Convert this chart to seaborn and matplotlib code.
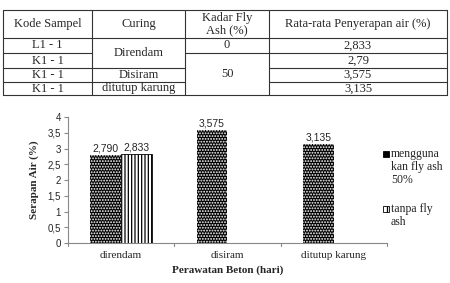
import matplotlib
matplotlib.use("Agg")
import matplotlib.pyplot as plt
from matplotlib.lines import Line2D
from matplotlib.patches import Rectangle
import numpy as np
import pandas as pd
import seaborn as sns

# table data
table_header = ["Kode Sampel", "Curing", "Kadar Fly\nAsh (%)", "Rata-rata Penyerapan air (%)"]
kode_sampel = ["L1 - 1", "K1 - 1", "K1 - 1", "K1 - 1"]
curing_table = ["Direndam", "Disiram", "ditutup karung"]
kadar_fly_ash = ["0", "50"]
rata_rata = ["2,833", "2,79", "3,575", "3,135"]

# chart data
categories = ["direndam", "disiram", "ditutup karung"]
series_names = ["mengguna\nkan fly ash\n50%", "tanpa fly\nash"]
fly_ash_50 = [2.790, 3.575, 3.135]
tanpa_fly_ash = [2.833, np.nan, np.nan]

SERIF = "Liberation Serif"
SANS = "Liberation Sans"

sns.set_style("white")
plt.rcParams["font.family"] = [SERIF, "DejaVu Sans"]
plt.rcParams["hatch.linewidth"] = 0.9

fig = plt.figure(figsize=(4.5, 2.83), dpi=100)

# ---------- table drawn in pixel coords ----------
W, H = 450, 283
def fx(x):
    return x / W
def fy(y):
    return 1 - y / H

cols = [3, 92, 185, 269, 447]
rows = [10, 38, 53, 68, 82, 95]
lc = "#333333"
def hline(y, x0, x1):
    fig.add_artist(Line2D([fx(x0), fx(x1)], [fy(y), fy(y)], color=lc, lw=0.8))
def vline(x, y0, y1):
    fig.add_artist(Line2D([fx(x), fx(x)], [fy(y0), fy(y1)], color=lc, lw=0.8))

hline(rows[0], cols[0], cols[4])
hline(rows[1], cols[0], cols[4])
hline(rows[5], cols[0], cols[4])
# inner row lines with merged cells
hline(rows[2], cols[0], cols[1]); hline(rows[2], cols[2], cols[4])
hline(rows[3], cols[0], cols[2]); hline(rows[3], cols[3], cols[4])
hline(rows[4], cols[0], cols[2]); hline(rows[4], cols[3], cols[4])
for c in cols:
    vline(c, rows[0], rows[5])

tfs = 9
def cell(x0, x1, y0, y1, s):
    fig.text(fx((x0 + x1) / 2), fy((y0 + y1) / 2), s, ha="center", va="center",
             fontsize=tfs, family=SERIF, linespacing=1.0)

for i, h in enumerate(table_header):
    cell(cols[i], cols[i + 1], rows[0], rows[1], h)
for r in range(4):
    cell(cols[0], cols[1], rows[r + 1], rows[r + 2], kode_sampel[r])
    cell(cols[3], cols[4], rows[r + 1], rows[r + 2], rata_rata[r])
cell(cols[1], cols[2], rows[1], rows[3], curing_table[0])
cell(cols[1], cols[2], rows[3], rows[4], curing_table[1])
cell(cols[1], cols[2], rows[4], rows[5], curing_table[2])
cell(cols[2], cols[3], rows[1], rows[2], kadar_fly_ash[0])
cell(cols[2], cols[3], rows[2], rows[5], kadar_fly_ash[1])

# ---------- bar chart ----------
ax = fig.add_axes([68 / W, 1 - 243 / H, (387 - 68) / W, (243 - 117) / H])

df = pd.DataFrame({
    "Perawatan": categories * 2,
    "Seri": [series_names[0]] * 3 + [series_names[1]] * 3,
    "Nilai": fly_ash_50 + tanpa_fly_ash,
})
sns.barplot(data=df, x="Perawatan", y="Nilai", hue="Seri", order=categories,
            hue_order=series_names, width=0.58, gap=0, errorbar=None, ax=ax,
            legend=False)

styles = [dict(facecolor="black", edgecolor="white", hatch="......", linewidth=0),
          dict(facecolor="white", edgecolor="black", hatch="|||||", linewidth=0.6)]
for cont, st in zip(ax.containers, styles):
    for p in cont.patches:
        if p is None:
            continue
        p.set_facecolor(st["facecolor"])
        p.set_edgecolor(st["edgecolor"])
        p.set_hatch(st["hatch"])
        p.set_linewidth(st["linewidth"])
        h = p.get_height()
        if np.isnan(h):
            continue
        ax.text(p.get_x() + p.get_width() / 2, h + 0.05, f"{h:.3f}".replace(".", ","),
                ha="center", va="bottom", fontsize=7.5, family=SANS)

ax.set_ylim(0, 4)
ax.set_xlim(-0.5, 2.5)
yt = np.arange(0, 4.01, 0.5)
ax.set_yticks(yt)
ax.set_yticklabels([f"{t:g}".replace(".", ",") for t in yt], fontsize=7, family=SANS)
ax.set_xticks([0, 1, 2])
ax.set_xticklabels(categories, fontsize=8, family=SERIF)
ax.tick_params(axis="x", length=0, pad=6)
ax.tick_params(axis="y", length=3, color="#888888", left=True, pad=2)
for b in [-0.5, 0.5, 1.5, 2.5]:
    ax.plot([b, b], [0, -0.08], color="#888888", lw=0.8, clip_on=False)
for s in ["top", "right"]:
    ax.spines[s].set_visible(False)
for s in ["left", "bottom"]:
    ax.spines[s].set_color("#888888")
    ax.spines[s].set_linewidth(0.8)
ax.set_ylabel("Serapan Air (%)", fontsize=8, fontweight="bold", family=SERIF, labelpad=6)
ax.set_xlabel("Perawatan Beton (hari)", fontsize=8, fontweight="bold", family=SERIF, labelpad=4)

# legend, drawn by hand so the key sits on the first text line
leg_y = [154, 209]
leg_hatch = ["...", "||"]
for name, st, hh, yy in zip(series_names, styles, leg_hatch, leg_y):
    fig.add_artist(Rectangle((fx(383), fy(yy + 3)), 6 / W, 6 / H,
                             facecolor=st["facecolor"],
                             edgecolor="black", hatch=hh, lw=0.6))
    fig.text(fx(391), fy(yy - 6), name, ha="left", va="top", fontsize=8.5,
             family=SERIF, linespacing=1.1)

fig.savefig("out.png", dpi=100)
